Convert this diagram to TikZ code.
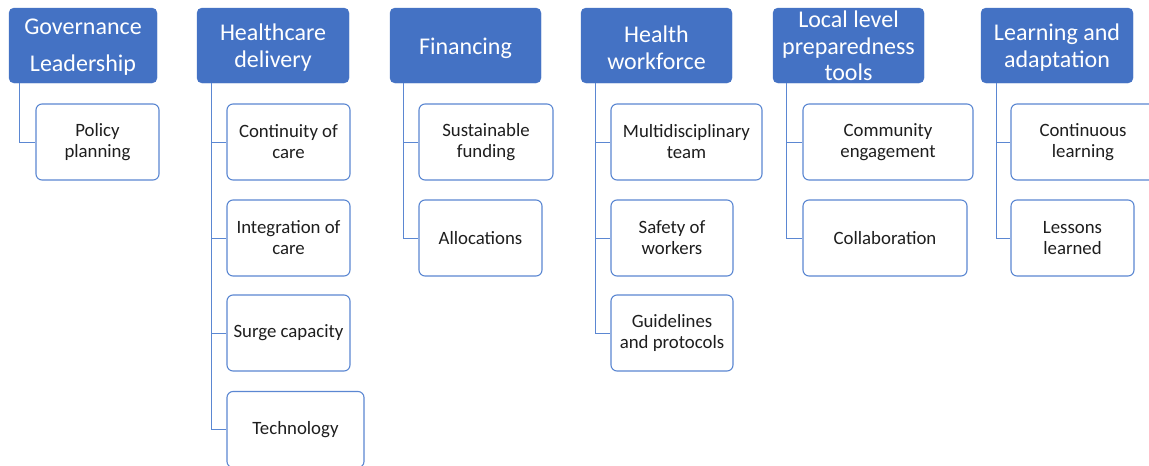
\documentclass[tikz,border=0pt]{standalone}
\usepackage{fontspec}
\setmainfont{Carlito}
\definecolor{hdrblue}{HTML}{4472C4}
\definecolor{boxblue}{HTML}{5B87D2}
\definecolor{txt}{HTML}{1E1E1E}
\begin{document}
\begin{tikzpicture}[x=1pt,y=-1pt,
  hdr/.style={draw=hdrblue,fill=hdrblue,rounded corners=5pt,inner sep=0pt,
    minimum height=75pt},
  hdrtext/.style={text=white,align=center,inner sep=0pt,font=\fontsize{24}{27}\selectfont},
  kid/.style={draw=boxblue,fill=white,line width=1.1pt,rounded corners=6pt,inner sep=0pt,
    text=txt,align=center,minimum height=76pt,font=\fontsize{18.8}{21}\selectfont},
  conn/.style={draw=boxblue,line width=1pt}]
\useasboundingbox (0,0) rectangle (1149,466);
\clip (0,0) rectangle (1149,466);
\fill[white] (0,0) rectangle (1149,466);
% headers
\node[hdr,minimum width=148pt,label={[hdrtext,font=\fontsize{24}{37}\selectfont,yshift=-2pt]center:Governance\\Leadership}] (h1) at (83,45.5) {};
\node[hdr,minimum width=152pt,label={[hdrtext,yshift=-2pt]center:Healthcare\\delivery}] (h2) at (273,45.5) {};
\node[hdr,minimum width=151pt,label={[hdrtext,yshift=-2.5pt]center:Financing}] (h3) at (465.5,45.5) {};
\node[hdr,minimum width=151pt,label={[hdrtext,yshift=-2pt]center:Health\\workforce}] (h4) at (656.5,45.5) {};
\node[hdr,minimum width=151pt,label={[hdrtext,font=\fontsize{24}{26.5}\selectfont,yshift=-0.5pt]center:Local level\\preparedness\\tools}] (h5) at (848.5,45.5) {};
\node[hdr,minimum width=152pt,label={[hdrtext,yshift=-2pt]center:Learning and\\adaptation}] (h6) at (1057,45.5) {};
% children
\node[kid,minimum width=123pt] (c11) at (97.5,142) {Policy\\planning};
\node[kid,minimum width=123pt] (c21) at (288.5,142) {Continuity of\\care};
\node[kid,minimum width=123pt] (c22) at (288.5,238) {Integration of\\care};
\node[kid,minimum width=123pt] (c23) at (288.5,333) {Surge capacity};
\node[kid,minimum width=137pt] (c24) at (295.5,429.5) {Technology};
\node[kid,minimum width=134pt] (c31) at (486,142) {Sustainable\\funding};
\node[kid,minimum width=123pt] (c32) at (480.5,238) {Allocations};
\node[kid,minimum width=151pt] (c41) at (686.5,142) {Multidisciplinary\\team};
\node[kid,minimum width=122pt] (c42) at (672,238) {Safety of\\workers};
\node[kid,minimum width=122pt] (c43) at (672,333) {Guidelines\\and protocols};
\node[kid,minimum width=170pt] (c51) at (888,142) {Community\\engagement};
\node[kid,minimum width=164pt] (c52) at (885,238) {Collaboration};
\node[kid,minimum width=144pt] (c61) at (1083,142) {Continuous\\learning};
\node[kid,minimum width=123pt] (c62) at (1072.5,238) {Lessons\\learned};
% connectors
\draw[conn] ([xshift=11pt]h1.south west) |- (c11.west);
\foreach \c in {c21,c22,c23,c24} \draw[conn] ([xshift=15pt]h2.south west) |- (\c.west);
\foreach \c in {c31,c32} \draw[conn] ([xshift=14pt]h3.south west) |- (\c.west);
\foreach \c in {c41,c42,c43} \draw[conn] ([xshift=15pt]h4.south west) |- (\c.west);
\foreach \c in {c51,c52} \draw[conn] ([xshift=14pt]h5.south west) |- (\c.west);
\foreach \c in {c61,c62} \draw[conn] ([xshift=16pt]h6.south west) |- (\c.west);
\end{tikzpicture}
\end{document}
